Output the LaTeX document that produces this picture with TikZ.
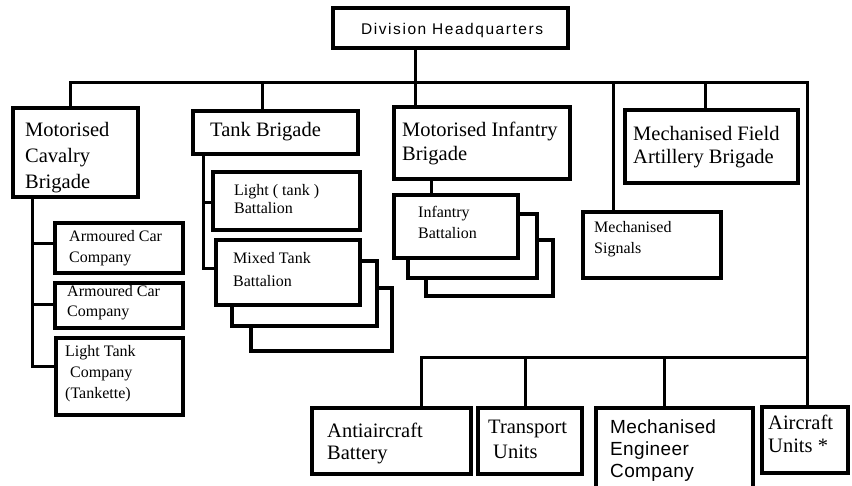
\documentclass[tikz,border=0pt]{standalone}
\usepackage{fontspec}
\setmainfont{Liberation Serif}
\newfontfamily\hqfont{Liberation Sans}[LetterSpace=10]
\newfontfamily\engfont{Liberation Sans}[LetterSpace=2]
\usetikzlibrary{fit}

\begin{document}
\begin{tikzpicture}[x=1pt,y=-1pt,
  unitbox/.style={rectangle, draw=black, line width=3.2pt, fill=white, inner sep=0pt},
  link/.style={draw=black, line width=3pt},
  % labels are placed by the baseline of their last line
  lbl/.style={inner sep=0pt, anchor=base west, align=left},
  bigtext/.style={font=\fontsize{20.5}{#1}\selectfont},
  smalltext/.style={font=\fontsize{16}{#1}\selectfont}]

\useasboundingbox (0,0) rectangle (852,486);

% ---- boxes: headquarters and brigades
\node[unitbox, fit={(333,8) (568,48)}] (hq) {};
\node[unitbox, fit={(13,108) (138,197)}] (cav) {};
\node[unitbox, fit={(193,111) (358,154)}] (tank) {};
\node[unitbox, fit={(394,107) (570,179)}] (mi) {};
\node[unitbox, fit={(625,110) (798,183)}] (art) {};
\node[unitbox, fit={(583,212) (721,278)}] (sig) {};

% ---- cavalry companies
\node[unitbox, fit={(55,223) (183,273)}] (ac1) {};
\node[unitbox, fit={(55,283) (183,328)}] (ac2) {};
\node[unitbox, fit={(56,338) (183,415)}] (ltc) {};

% ---- tank battalions (mixed battalions stacked)
\node[unitbox, fit={(213,172) (360,230)}] (lt) {};
\node[unitbox, fit={(251,288) (392,351)}] (mx3) {};
\node[unitbox, fit={(232,261) (377,326)}] (mx2) {};
\node[unitbox, fit={(216,240) (360,305)}] (mx) {};

% ---- infantry battalions (stacked)
\node[unitbox, fit={(426,240) (553,296)}] (inf3) {};
\node[unitbox, fit={(408,214) (537,278)}] (inf2) {};
\node[unitbox, fit={(394,195) (518,258)}] (inf) {};

% ---- divisional units
\node[unitbox, fit={(312,408) (471,474)}] (aa) {};
\node[unitbox, fit={(478,408) (582,474)}] (tr) {};
\node[unitbox, fit={(596,408) (753,494)}] (eng) {};
\node[unitbox, fit={(762,407) (848,473)}] (air) {};

% ---- main buses
\coordinate (busL) at (70,83);
\coordinate (busR) at (807,83);
\coordinate (lowR) at (807,358);
\coordinate (lowL) at (421,358);
\draw[link] (busL |- cav.north) -- (busL) -- (busR) -- (busR |- air.north);
\draw[link] (lowR) -- (lowL) -- (lowL |- aa.north);

% ---- drops from the upper bus
\coordinate (hqDrop) at (415,83);
\draw[link] (hqDrop |- hq.south) -- (hqDrop |- mi.north);
\coordinate (tankDrop) at (262,83);
\draw[link] (tankDrop) -- (tankDrop |- tank.north);
\coordinate (sigDrop) at (613,83);
\draw[link] (sigDrop) -- (sigDrop |- sig.north);
\coordinate (artDrop) at (705,83);
\draw[link] (artDrop) -- (artDrop |- art.north);

% ---- drops from the lower bus
\coordinate (trDrop) at (525,358);
\draw[link] (trDrop) -- (trDrop |- tr.north);
\coordinate (engDrop) at (664,358);
\draw[link] (engDrop) -- (engDrop |- eng.north);

% ---- cavalry brigade tree
\coordinate (cavSpine) at (32,367);
\draw[link] (cavSpine |- cav.south) -- (cavSpine) -- (cavSpine -| ltc.west);
\coordinate (acB1) at (32,244);
\draw[link] (acB1) -- (acB1 -| ac1.west);
\coordinate (acB2) at (32,305);
\draw[link] (acB2) -- (acB2 -| ac2.west);

% ---- tank brigade tree
\coordinate (tkSpine) at (203,269);
\draw[link] (tkSpine |- tank.south) -- (tkSpine) -- (tkSpine -| mx.west);
\coordinate (ltB) at (203,203);
\draw[link] (ltB) -- (ltB -| lt.west);

% ---- infantry brigade tree
\coordinate (miDrop) at (431,180);
\draw[link] (miDrop |- mi.south) -- (miDrop |- inf.north);

% ---- labels
\node[lbl, font=\hqfont\fontsize{15.5}{18}\selectfont] (hq-t) at (361,35) {Division Headquarters};
\node[lbl, bigtext=26] (cav-t) at (25,189) {Motorised\\Cavalry\\Brigade};
\node[lbl, bigtext=24] (tank-t) at (210,137) {Tank Brigade};
\node[lbl, bigtext=24] (mi-t) at (402,161) {Motorised Infantry\\Brigade};
\node[lbl, bigtext=23] (art-t) at (633,164) {Mechanised Field\\Artillery Brigade};
\node[lbl, smalltext=21] (sig-t) at (594,254) {Mechanised\\Signals};

\node[lbl, smalltext=21] (ac1-t) at (69,263) {Armoured Car\\Company};
\node[lbl, smalltext=20] (ac2-t) at (67,317) {Armoured Car\\Company};
\node[lbl, smalltext=21] (ltc-t) at (65,399) {Light Tank\\\hspace*{5pt}Company\\(Tankette)};

\node[lbl, smalltext=18] (lt-t) at (234,214) {Light ( tank )\\Battalion};
\node[lbl, smalltext=23] (mx-t) at (233,287) {Mixed Tank\\Battalion};
\node[lbl, smalltext=21] (inf-t) at (418,239) {Infantry\\Battalion};

\node[lbl, bigtext=23] (aa-t) at (327,460) {Antiaircraft\\Battery};
\node[lbl, bigtext=25] (tr-t) at (488,458) {Transport\\\hspace*{5pt}Units};
\node[lbl, font=\engfont\fontsize{19}{22}\selectfont] (eng-t) at (610,477) {Mechanised\\Engineer\\Company};
\node[lbl, bigtext=24] (air-t) at (768,453) {Aircraft\\Units *};

\end{tikzpicture}
\end{document}
